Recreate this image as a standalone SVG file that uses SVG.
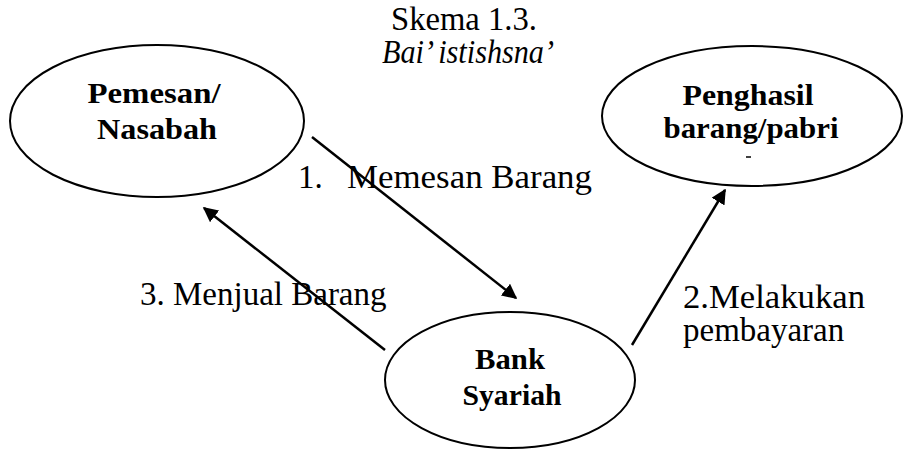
<svg xmlns="http://www.w3.org/2000/svg" width="905" height="451" viewBox="0 0 905 451">
<style>
.node{fill:none;stroke:#000;stroke-width:2}
.t{font-family:"Liberation Serif","DejaVu Serif",serif;font-size:33px;fill:#000}
.h{text-anchor:middle}
.b{font-weight:bold;text-anchor:middle;font-size:30px}
.c{stroke:#000;stroke-width:2.5;fill:none;marker-end:url(#ah)}
</style>
<defs>
<marker id="ah" viewBox="0 0 10 10" refX="9" refY="5" markerWidth="6" markerHeight="6" orient="auto" markerUnits="strokeWidth">
<path d="M0,0 L10,5 L0,10 z" fill="#000"/>
</marker>
</defs>
<rect width="905" height="451" fill="#fff"/>
<g id="title">
<text class="t h" x="464" y="30" font-size="26" textLength="146" lengthAdjust="spacingAndGlyphs">Skema 1.3.</text>
<text class="t h" x="468" y="63" font-size="24" font-style="italic" textLength="172" lengthAdjust="spacingAndGlyphs">Bai’ istishsna’</text>
</g>
<g id="pemesan">
<ellipse class="node" cx="157" cy="121" rx="147" ry="76"/>
<text class="t b" x="154" y="103" textLength="133" lengthAdjust="spacingAndGlyphs">Pemesan/</text>
<text class="t b" x="157" y="139" textLength="120" lengthAdjust="spacingAndGlyphs">Nasabah</text>
</g>
<g id="penghasil">
<ellipse class="node" cx="752" cy="116" rx="150" ry="70"/>
<text class="t b" x="748" y="105" textLength="131" lengthAdjust="spacingAndGlyphs">Penghasil</text>
<text class="t b" x="751" y="138" textLength="175" lengthAdjust="spacingAndGlyphs">barang/pabri</text>
<line x1="746" y1="157" x2="751" y2="157" stroke="#000" stroke-width="1.5"/>
</g>
<g id="bank">
<ellipse class="node" cx="510" cy="380" rx="125" ry="68"/>
<text class="t b" x="510" y="369" textLength="70" lengthAdjust="spacingAndGlyphs">Bank</text>
<text class="t b" x="512" y="405" textLength="99" lengthAdjust="spacingAndGlyphs">Syariah</text>
</g>
<g id="connectors">
<line class="c" x1="312" y1="137" x2="516" y2="298"/>
<line class="c" x1="632" y1="345" x2="725" y2="190"/>
<line class="c" x1="385" y1="350" x2="204" y2="208"/>
</g>
<g id="labels">
<text class="t" x="298" y="188">1.</text>
<text class="t" x="347" y="188" textLength="245" lengthAdjust="spacingAndGlyphs">Memesan Barang</text>
<text class="t" x="140" y="305">3. Menjual Barang</text>
<text class="t" x="683" y="308" textLength="182" lengthAdjust="spacingAndGlyphs">2.Melakukan</text>
<text class="t" x="683" y="341">pembayaran</text>
</g>
</svg>
